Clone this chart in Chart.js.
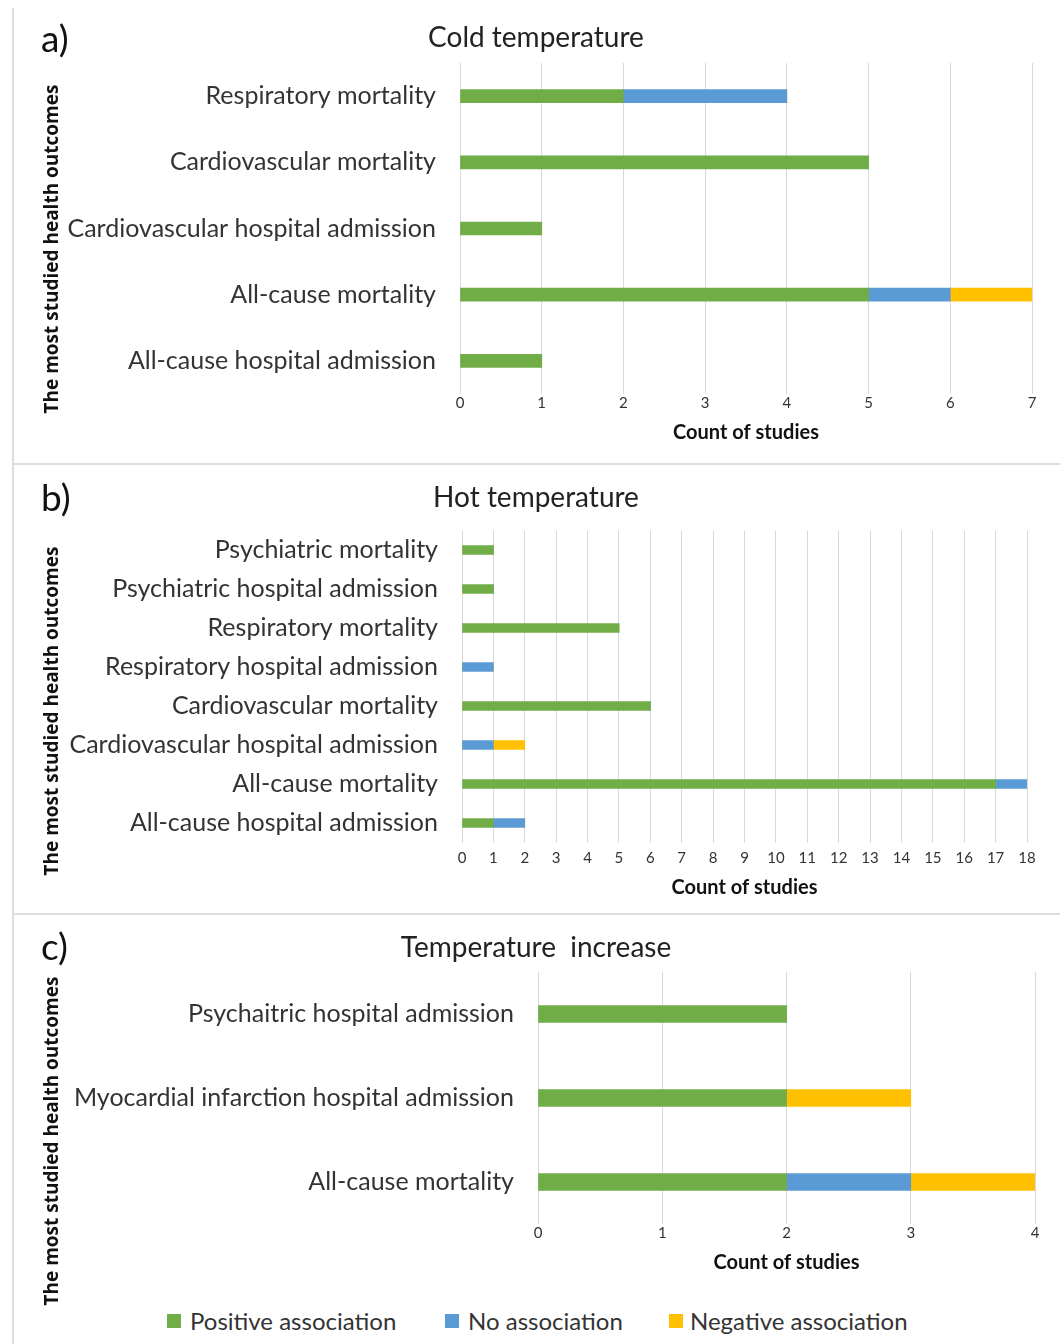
<!DOCTYPE html>
<html>
<head>
<meta charset="utf-8">
<script src="https://cdn.jsdelivr.net/npm/chart.js@4.4.1/dist/chart.umd.min.js"></script>
<style>
  body { margin: 0; background: #fff; width: 1060px; height: 1344px; position: relative; overflow: hidden; font-family: Lato, sans-serif; }
  .panel { position: absolute; left: 12px; width: 1048px; box-sizing: border-box; border-left: 2px solid #dedede; border-bottom: 2px solid #dedede; }
  canvas { position: absolute; left: 12px; }
  .tag { position: absolute; left: 41px; font-size: 37px; color: #111; line-height: 1; }
  .ytitle { position: absolute; font: bold 19px 'Open Sans', sans-serif; color: #111; white-space: nowrap;
            transform: translate(-50%, -50%) rotate(-90deg); }
  .legend { position: absolute; top: 1308px; font-family: 'Liberation Sans Narrow', Lato, sans-serif; font-size: 24px; color: #333; line-height: 26px; }
  .legend span.sw { position: absolute; top: 6px; width: 14px; height: 14px; }
  .legend span.tx { position: absolute; white-space: nowrap; }
</style>
</head>
<body>
<div class="panel" style="top:8px;height:457px"></div>
<div class="panel" style="top:465px;height:450px"></div>
<div class="panel" style="top:915px;height:429px;border-bottom:none"></div>

<canvas id="cold" width="1048" height="457" style="top:8px"></canvas>
<canvas id="hot" width="1048" height="450" style="top:465px"></canvas>
<canvas id="rise" width="1048" height="375" style="top:915px"></canvas>

<div class="tag" style="top:19px">a)</div>
<div class="tag" style="top:478px">b)</div>
<div class="tag" style="top:927px">c)</div>

<div class="ytitle" style="left:51px;top:249px">The most studied health outcomes</div>
<div class="ytitle" style="left:51px;top:711px">The most studied health outcomes</div>
<div class="ytitle" style="left:51px;top:1141px">The most studied health outcomes</div>

<div class="legend" id="legend"></div>

<script>
// series colours (Excel defaults)
const green = '#70AD47', blue = '#5B9BD5', gold = '#FFC000';
const seriesNames = ['Positive association', 'No association', 'Negative association'];

// a) cold temperature
const coldOutcomes = ['Respiratory mortality', 'Cardiovascular mortality', 'Cardiovascular hospital admission',
                      'All-cause mortality', 'All-cause hospital admission'];
const coldPositive = [2, 5, 1, 5, 1];
const coldNone     = [2, 0, 0, 1, 0];
const coldNegative = [0, 0, 0, 1, 0];
const coldMax = 7;

// b) hot temperature
const hotOutcomes = ['Psychiatric mortality', 'Psychiatric hospital admission', 'Respiratory mortality',
                     'Respiratory hospital admission', 'Cardiovascular mortality', 'Cardiovascular hospital admission',
                     'All-cause mortality', 'All-cause hospital admission'];
const hotPositive = [1, 1, 5, 0, 6, 0, 17, 1];
const hotNone     = [0, 0, 0, 1, 0, 1, 1, 1];
const hotNegative = [0, 0, 0, 0, 0, 1, 0, 0];
const hotMax = 18;

// c) temperature increase
const riseOutcomes = ['Psychaitric hospital admission', 'Myocardial infarction hospital admission', 'All-cause mortality'];
const risePositive = [2, 2, 2];
const riseNone     = [0, 0, 1];
const riseNegative = [0, 1, 1];
const riseMax = 4;

Chart.defaults.font.family = 'Lato, sans-serif';

function buildChart(id, title, outcomes, pos, none, neg, maxCount, lay) {
  const ds = (label, data, color) => ({ label, data, backgroundColor: color, barThickness: lay.bar, borderWidth: 0 });
  return new Chart(document.getElementById(id), {
    type: 'bar',
    data: {
      labels: outcomes,
      datasets: [ds(seriesNames[0], pos, green), ds(seriesNames[1], none, blue), ds(seriesNames[2], neg, gold)]
    },
    options: {
      indexAxis: 'y', responsive: false, animation: false,
      layout: { padding: { top: 0, left: lay.side, right: lay.side, bottom: lay.padB } },
      plugins: {
        legend: { display: false }, tooltip: { enabled: false },
        title: { display: true, text: title, color: '#222', font: { size: 28, weight: 'normal' },
                 padding: { top: lay.tp, bottom: lay.tb } }
      },
      scales: {
        x: {
          stacked: true, min: 0, max: maxCount,
          ticks: { stepSize: 1, padding: lay.tickPad, color: '#333', font: { size: 15 } },
          grid: { color: '#d9d9d9', drawTicks: false }, border: { display: false },
          title: { display: true, text: 'Count of studies', color: '#111', font: { size: 20, weight: 'bold' }, padding: 0 },
          afterFit: s => { s.height = lay.axisH; }
        },
        y: {
          stacked: true,
          grid: { display: false, drawTicks: false }, border: { display: false },
          ticks: { padding: 24, color: '#333', font: { size: 25 } },
          afterFit: s => { s.width = lay.yW; }
        }
      }
    }
  });
}

buildChart('cold', 'Cold temperature', coldOutcomes, coldPositive, coldNone, coldNegative, coldMax,
  { side: 28, yW: 420, tp: 13.2, tb: 8.2, tickPad: 0, axisH: 51, padB: 20, bar: 13 });
buildChart('hot', 'Hot temperature', hotOutcomes, hotPositive, hotNone, hotNegative, hotMax,
  { side: 33, yW: 417, tp: 16.2, tb: 15.7, tickPad: 6.5, axisH: 57.5, padB: 15, bar: 9 });
buildChart('rise', 'Temperature  increase', riseOutcomes, risePositive, riseNone, riseNegative, riseMax,
  { side: 25, yW: 501, tp: 16.2, tb: 7.2, tickPad: 0, axisH: 51, padB: 15, bar: 17 });

// legend shared by all three panels
const legendPos = [[167, 190], [445, 468], [669, 690]];
document.getElementById('legend').innerHTML = seriesNames.map((n, i) =>
  `<span class="sw" style="left:${legendPos[i][0]}px;background:${[green, blue, gold][i]}"></span>` +
  `<span class="tx" style="left:${legendPos[i][1]}px">${n}</span>`).join('');
</script>
</body>
</html>
